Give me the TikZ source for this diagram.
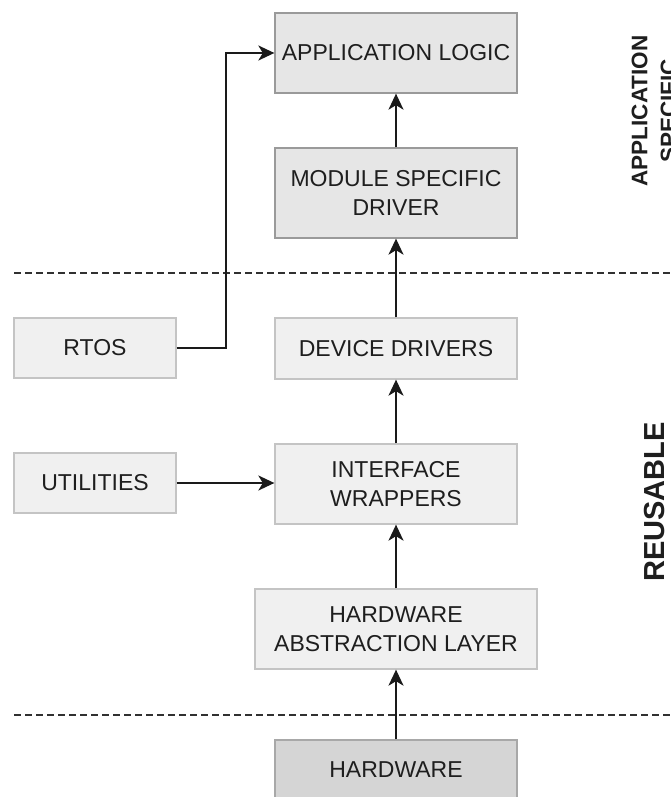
\documentclass[tikz,border=0pt]{standalone}
\usepackage{fontspec}
\setmainfont{Liberation Sans}
\usetikzlibrary{arrows.meta,calc}
\definecolor{txt}{HTML}{1E1E1E}
\definecolor{fillA}{HTML}{E6E6E6}
\definecolor{lineA}{HTML}{9A9A9A}
\definecolor{fillB}{HTML}{F0F0F0}
\definecolor{lineB}{HTML}{C4C4C4}
\definecolor{fillC}{HTML}{D5D5D5}
\definecolor{lineC}{HTML}{A8A8A8}
\definecolor{arrc}{HTML}{1A1A1A}
\tikzset{
  box/.style={rectangle, draw, line width=1.3pt, align=center, text=txt,
    inner sep=0pt, font=\fontsize{23}{29}\selectfont},
  boxA/.style={box, fill=fillA, draw=lineA},
  boxB/.style={box, fill=fillB, draw=lineB},
  boxC/.style={box, fill=fillC, draw=lineC},
  arr/.style={draw=arrc, line width=2pt,
    -{Stealth[length=16pt,width=15pt,inset=4.5pt]}},
  sepline/.style={draw=arrc!90, line width=1.5pt, dash pattern=on 7pt off 4pt},
  sidelabel/.style={rotate=90, align=center, text=txt, inner sep=0pt}
}
\begin{document}
\begin{tikzpicture}[x=1pt,y=-1pt]
\useasboundingbox (0,0) rectangle (670,797);
\clip (0,0) rectangle (670,797);
\fill[white] (0,0) rectangle (670,797);

% separators
\draw[sepline] (14,273) -- (690,273);
\draw[sepline] (14,715) -- (690,715);

% boxes
\node[boxA, minimum width=242pt, minimum height=80pt] (al) at (396,53) {APPLICATION LOGIC};
\node[boxA, minimum width=242pt, minimum height=90pt] (msd) at (396,193) {MODULE SPECIFIC\\DRIVER};
\node[boxB, minimum width=242pt, minimum height=61pt] (dd) at (396,348.5) {DEVICE DRIVERS};
\node[boxB, minimum width=242pt, minimum height=80pt] (iw) at (396,484) {INTERFACE\\WRAPPERS};
\node[boxB, minimum width=282pt, minimum height=80pt] (hal) at (396,629) {HARDWARE\\ABSTRACTION LAYER};
\node[boxC, minimum width=242pt, minimum height=60pt] (hw) at (396,770) {HARDWARE};
\node[boxB, minimum width=162pt, minimum height=60pt] (rtos) at (95,348) {RTOS};
\node[boxB, minimum width=162pt, minimum height=60pt] (util) at (95,483) {UTILITIES};

% side labels
\node[sidelabel, font=\bfseries\fontsize{22.5}{29}\selectfont] (appspec) at (654,111) {APPLICATION\\SPECIFIC};
\node[sidelabel, font=\bfseries\fontsize{29}{34}\selectfont] (reuse) at (655,502) {REUSABLE};

% connectors
\coordinate (bend) at (226,53);
\draw[arr] (rtos.east) -| (bend) -- (al.west);
\draw[arr] (msd.north) -- (al.south);
\draw[arr] (dd.north) -- (msd.south);
\draw[arr] (iw.north) -- (dd.south);
\draw[arr] (hal.north) -- (iw.south);
\draw[arr] (hw.north) -- (hal.south);
\draw[arr] (util.east) -- (iw.west |- util.east);
\end{tikzpicture}
\end{document}
